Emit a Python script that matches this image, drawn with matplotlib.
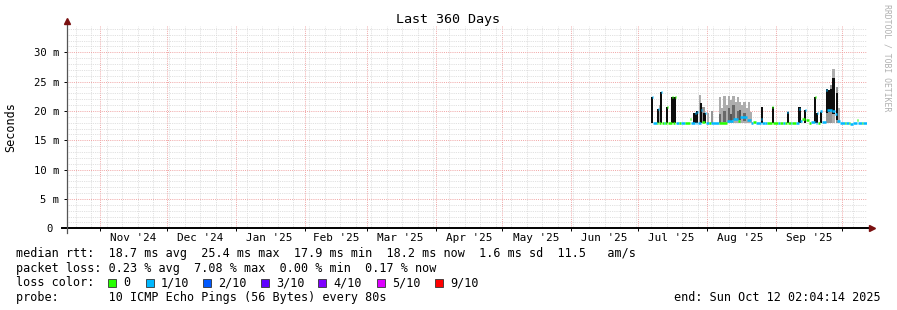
import numpy as np
import pandas as pd
import matplotlib
matplotlib.use("Agg")
import matplotlib.pyplot as plt
import matplotlib.dates as mdates
from matplotlib.patches import Rectangle

W, H = 897, 310
MONO = "DejaVu Sans Mono"

t_start = pd.Timestamp("2024-10-17 02:04:14")
t_end = pd.Timestamp("2025-10-12 02:04:14")

month_labels = ["Nov '24", "Dec '24", "Jan '25", "Feb '25", "Mar '25", "Apr '25",
                "May '25", "Jun '25", "Jul '25", "Aug '25", "Sep '25"]
month_mid = ["2024-11-16", "2024-12-16", "2025-01-16", "2025-02-15", "2025-03-16",
             "2025-04-16", "2025-05-16", "2025-06-16", "2025-07-16", "2025-08-16",
             "2025-09-16"]

ytick_ms = [0, 5, 10, 15, 20, 25, 30]
ytick_labels = ["0 ", "5 m", "10 m", "15 m", "20 m", "25 m", "30 m"]

# median rtt (ms), step series: value holds until next date; loss = lost pings of 10
med_dates = ["2025-07-07 06:00", "2025-07-07 18:00", "2025-07-09 12:00", "2025-07-10 00:00",
             "2025-07-10 12:00", "2025-07-11 12:00", "2025-07-12 00:00", "2025-07-14 00:00",
             "2025-07-14 12:00", "2025-07-16 12:00", "2025-07-17 00:00", "2025-07-17 12:00",
             "2025-07-18 00:00", "2025-07-22 00:00", "2025-07-24 06:00", "2025-07-24 18:00",
             "2025-07-26 12:00", "2025-07-27 00:00", "2025-07-27 12:00", "2025-07-28 00:00",
             "2025-07-29 12:00", "2025-07-30 00:00", "2025-07-31 00:00", "2025-07-31 12:00",
             "2025-08-06 12:00", "2025-08-10 00:00", "2025-08-13 00:00", "2025-08-15 00:00",
             "2025-08-16 00:00", "2025-08-19 00:00", "2025-08-21 00:00", "2025-08-22 00:00",
             "2025-08-23 00:00", "2025-08-25 12:00", "2025-08-26 00:00", "2025-08-28 00:00",
             "2025-08-30 12:00", "2025-08-31 00:00", "2025-09-02 00:00", "2025-09-03 00:00",
             "2025-09-06 06:00", "2025-09-06 18:00", "2025-09-10 00:00", "2025-09-11 12:00",
             "2025-09-12 00:00", "2025-09-13 00:00", "2025-09-14 00:00", "2025-09-14 12:00",
             "2025-09-16 00:00", "2025-09-18 12:00", "2025-09-19 00:00", "2025-09-19 12:00",
             "2025-09-20 00:00", "2025-09-21 00:00", "2025-09-22 00:00", "2025-09-23 18:00",
             "2025-09-24 06:00", "2025-09-26 12:00", "2025-09-27 12:00", "2025-09-28 12:00",
             "2025-09-30 00:00", "2025-10-04 00:00", "2025-10-04 12:00", "2025-10-06 00:00",
             "2025-10-07 12:00", "2025-10-08 00:00", "2025-10-12 02:00",
             "2025-07-19 12:00", "2025-07-20 12:00", "2025-08-02 00:00", "2025-08-03 00:00",
             "2025-09-04 12:00", "2025-09-05 00:00", "2025-09-08 00:00", "2025-09-08 12:00",
             "2025-10-02 00:00", "2025-10-02 12:00", "2025-10-10 00:00", "2025-10-10 12:00",
             "2025-08-27 00:00", "2025-09-16 18:00", "2025-07-12 18:00", "2025-07-13 06:00"]
med_ms = [22.3, 18.0, 18.0, 20.4, 18.0, 23.2, 18.0, 20.6,
          18.0, 22.3, 18.0, 22.4, 18.0, 18.0, 18.6, 18.0,
          19.6, 18.0, 19.8, 18.0, 20.2, 18.2, 19.6, 18.0,
          18.0, 18.3, 18.6, 18.3, 18.9, 18.4, 18.0, 18.2,
          18.0, 18.6, 18.0, 18.0, 20.6, 18.0, 18.0, 18.0,
          19.8, 18.0, 18.0, 20.4, 18.3, 18.6, 20.2, 18.5,
          18.0, 22.3, 18.0, 19.6, 18.0, 20.0, 18.2, 23.6,
          20.1, 20.0, 19.5, 18.3, 17.9, 17.9, 17.7, 17.9,
          18.5, 17.9, 18.2,
          18.0, 18.0, 18.0, 18.0,
          18.0, 18.0, 18.0, 18.0,
          17.9, 17.9, 17.9, 17.9,
          18.0, 18.1, 18.0, 18.0]
med_loss = [1, 1, 0, 1, 0, 1, 0, 0,
            0, 0, 0, 0, 1, 0, 0, 1,
            1, 1, 1, 1, 1, 0, 1, 1,
            0, 1, 1, 0, 1, 1, 1, 0,
            1, 1, 1, 0, 0, 0, 1, 0,
            1, 0, 1, 1, 1, 0, 1, 0,
            0, 0, 1, 1, 0, 1, 1, 1,
            1, 1, 1, 1, 1, 0, 1, 1,
            0, 1, 1,
            0, 1, 0, 1,
            1, 0, 1, 0,
            0, 1, 0, 1,
            1, 1, 1, 0]

# smoke bands: date, low (ms), high (ms), pings inside the band
smoke_dates = ["2025-07-07 12:00", "2025-07-10 00:00", "2025-07-11 00:00", "2025-07-11 12:00",
               "2025-07-14 00:00", "2025-07-16 12:00", "2025-07-17 12:00", "2025-07-26 12:00",
               "2025-07-27 12:00", "2025-07-29 00:00", "2025-07-29 12:00", "2025-07-30 12:00",
               "2025-07-31 00:00", "2025-08-01 12:00", "2025-08-03 12:00",
               "2025-08-07 00:00", "2025-08-07 00:00", "2025-08-08 00:00", "2025-08-09 00:00",
               "2025-08-09 00:00", "2025-08-10 00:00", "2025-08-11 00:00", "2025-08-11 00:00",
               "2025-08-12 00:00", "2025-08-12 00:00", "2025-08-13 00:00", "2025-08-13 00:00",
               "2025-08-14 00:00", "2025-08-15 00:00", "2025-08-15 00:00", "2025-08-16 00:00",
               "2025-08-16 00:00", "2025-08-17 00:00", "2025-08-18 00:00", "2025-08-18 00:00",
               "2025-08-19 00:00", "2025-08-20 00:00", "2025-08-21 00:00",
               "2025-08-25 18:00", "2025-08-30 18:00", "2025-09-06 12:00", "2025-09-11 18:00",
               "2025-09-14 06:00", "2025-09-18 18:00", "2025-09-19 18:00", "2025-09-21 06:00",
               "2025-09-24 00:00", "2025-09-24 00:00", "2025-09-25 00:00", "2025-09-25 00:00",
               "2025-09-26 00:00", "2025-09-26 00:00", "2025-09-27 00:00", "2025-09-27 00:00",
               "2025-09-28 12:00", "2025-09-28 12:00", "2025-09-29 12:00"]
smoke_lo = [18.0, 18.0, 18.0, 18.0, 18.0, 18.0, 18.0, 18.0,
            18.0, 18.0, 18.0, 18.0, 18.0, 18.0, 18.0,
            18.0, 18.0, 18.0, 18.0, 18.2, 18.0, 18.0, 18.3,
            18.0, 18.3, 18.0, 18.4, 18.0, 18.0, 18.5, 18.0,
            18.5, 18.0, 18.0, 18.3, 18.0, 18.0, 18.0,
            18.0, 18.0, 18.0, 18.0, 18.0, 18.0, 18.0, 18.0,
            18.0, 19.6, 18.0, 19.8, 18.0, 20.0, 18.0, 19.5,
            18.0, 18.5, 18.0]
smoke_hi = [22.3, 20.4, 21.0, 23.2, 20.6, 22.3, 22.4, 19.6,
            20.0, 22.8, 21.3, 20.6, 19.6, 19.6, 20.0,
            22.3, 19.5, 20.5, 22.6, 20.0, 21.0, 22.6, 20.5,
            21.8, 19.5, 22.6, 21.0, 21.5, 22.4, 20.0, 21.5,
            20.2, 21.0, 21.5, 19.6, 20.5, 21.5, 19.8,
            20.6, 20.6, 19.8, 20.6, 20.2, 22.3, 19.6, 19.8,
            21.0, 23.8, 22.0, 23.6, 24.5, 23.8, 27.2, 25.7,
            24.0, 23.0, 20.5]
smoke_pings = [10, 10, 3, 10, 10, 10, 10, 10,
               10, 3, 10, 4, 10, 3, 4,
               3, 6, 3, 3, 6, 3, 3, 6,
               3, 7, 3, 6, 3, 3, 6, 3,
               7, 3, 3, 6, 3, 3, 3,
               10, 10, 10, 10, 10, 10, 10, 10,
               4, 10, 4, 10, 4, 10, 3, 10,
               4, 10, 3]

loss_colors = ["#26ff00", "#00b8ff", "#0059ff", "#5e00ff", "#7e00ff", "#dd00ff", "#ff0000"]
loss_labels = ["0", "1/10", "2/10", "3/10", "4/10", "5/10", "9/10"]


def fx(x):
    return x / W


def fy(y):
    return 1 - y / H


fig = plt.figure(figsize=(W / 100, H / 100), dpi=100)
fig.patch.set_facecolor("white")
ax = fig.add_axes([fx(67), fy(228.3), 800 / W, 202.3 / H])
ax.set_facecolor("white")

x0 = mdates.date2num(t_start)
x1 = mdates.date2num(t_end)
ax.set_xlim(x0, x1)
ax.set_ylim(0, 202.3 / 5.867)

# grid
ax.xaxis.set_major_locator(mdates.MonthLocator())
ax.xaxis.set_minor_locator(mdates.WeekdayLocator(byweekday=mdates.MO))
ax.set_yticks(ytick_ms)
ax.set_yticks(np.arange(0, 35, 1), minor=True)
ax.set_xticklabels([])
ax.set_yticklabels(ytick_labels, family=MONO, fontsize=7.6)
ax.grid(which="minor", color="#d6d6d6", linestyle=(0, (1, 1.2)), linewidth=0.6)
ax.grid(which="major", color="#f0a4a4", linestyle=(0, (1, 1.2)), linewidth=0.7)
ax.set_axisbelow(True)
ax.tick_params(which="major", direction="out", length=2, width=0.7, pad=3.5, colors="black")
ax.tick_params(which="minor", length=0)
for s in ax.spines.values():
    s.set_visible(False)

# smoke
sd = mdates.date2num(pd.to_datetime(smoke_dates))
lo = np.array(smoke_lo)
hi = np.array(smoke_hi)
shade = [str(round(1 - 0.09 * n - 0.05, 2)) for n in smoke_pings]
order = np.argsort(smoke_pings, kind="stable")
ax.bar(sd[order], (hi - lo)[order], bottom=lo[order], width=1.0,
       color=[shade[i] for i in order], linewidth=0, zorder=2)

# median line coloured by loss
md = mdates.date2num(pd.to_datetime(med_dates))
mo = np.argsort(md)
md = md[mo]
mv = np.array(med_ms)[mo]
ml = np.array(med_loss)[mo]
ax.hlines(mv[:-1], md[:-1], md[1:], colors=[loss_colors[k] for k in ml[:-1]],
          linewidth=1.8, zorder=3)

# axes lines with arrows
ax.plot([-5 / 800, 1 + 2 / 800], [0, 0], transform=ax.transAxes, color="black",
        linewidth=1.4, clip_on=False, zorder=5)
ax.plot([0, 0], [-5 / 202.3, 1.0 + 2 / 202.3], transform=ax.transAxes, color="#555555",
        linewidth=0.9, clip_on=False, zorder=5)
ax.plot([1 + 5 / 800], [0], marker=">", markersize=4.5, color="#7a1010",
        transform=ax.transAxes, clip_on=False, zorder=6)
ax.plot([0], [1.0 + 5 / 202.3], marker="^", markersize=4.5, color="#7a1010",
        transform=ax.transAxes, clip_on=False, zorder=6)

# month labels centred mid-month
mm = mdates.date2num(pd.to_datetime(month_mid))
for xm, lab in zip(mm, month_labels):
    ax.text(xm, -10 / 202.3, lab, transform=ax.get_xaxis_transform(), ha="center",
            va="center", family=MONO, fontsize=7.9)

fig.text(fx(448), fy(19), "Last 360 Days", ha="center", va="center", family=MONO, fontsize=9.6)
fig.text(fx(11), fy(127), "Seconds", ha="center", va="center", rotation=90,
         family=MONO, fontsize=8.5)
fig.text(fx(887), fy(4), "RRDTOOL / TOBI OETIKER", ha="center", va="top", rotation=270,
         family=MONO, fontsize=5.9, color="#b0b0b0")

# legend block
row_y = [254, 268.5, 283, 297.5]
fs = 8.5
fig.text(fx(16), fy(row_y[0]),
         "median rtt:  18.7 ms avg  25.4 ms max  17.9 ms min  18.2 ms now  1.6 ms sd  11.5   am/s",
         ha="left", va="center", family=MONO, fontsize=fs)
fig.text(fx(16), fy(row_y[1]),
         "packet loss: 0.23 % avg  7.08 % max  0.00 % min  0.17 % now",
         ha="left", va="center", family=MONO, fontsize=fs)
fig.text(fx(16), fy(row_y[2]), "loss color:", ha="left", va="center", family=MONO, fontsize=fs)
box_x = [108.3, 145.7, 203, 261, 318.3, 376.7, 435]
for bx, col, lab in zip(box_x, loss_colors, loss_labels):
    fig.patches.append(Rectangle((fx(bx), fy(row_y[2] + 4)), 8 / W, 8 / H,
                                 transform=fig.transFigure, facecolor=col,
                                 edgecolor="#333333", linewidth=0.6))
    fig.text(fx(bx + 15), fy(row_y[2]), lab, ha="left", va="center", family=MONO, fontsize=fs)
fig.text(fx(16), fy(row_y[3]), "probe:       10 ICMP Echo Pings (56 Bytes) every 80s",
         ha="left", va="center", family=MONO, fontsize=fs)
fig.text(fx(881), fy(row_y[3]), "end: Sun Oct 12 02:04:14 2025", ha="right", va="center",
         family=MONO, fontsize=fs)

fig.savefig("out.png", dpi=100)
